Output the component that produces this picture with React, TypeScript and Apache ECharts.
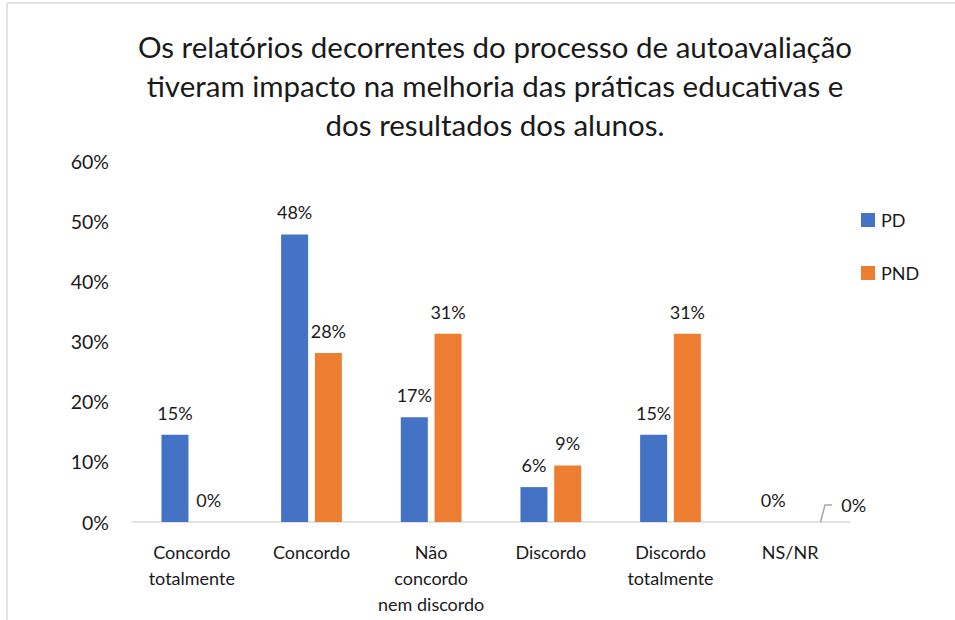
import React, { useEffect, useRef } from "react";
import * as echarts from "echarts";

const titleText =
  "Os relatórios decorrentes do processo de autoavaliação\ntiveram impacto na melhoria das práticas educativas e\ndos resultados dos alunos.";
const categories = [
  "Concordo\ntotalmente",
  "Concordo",
  "Não\nconcordo\nnem discordo",
  "Discordo",
  "Discordo\ntotalmente",
  "NS/NR",
];
const seriesNames = ["PD", "PND"];
const pdValues = [14.5, 47.8, 17.4, 5.8, 14.5, 0];
const pndValues = [0, 28.1, 31.3, 9.4, 31.3, 0];
const yTicks = [0, 10, 20, 30, 40, 50, 60];

const FONT = "Lato, 'Liberation Sans', sans-serif";
const TXT = "#1a1a1a";

export default function App() {
  const ref = useRef<HTMLDivElement>(null);
  useEffect(() => {
    if (!ref.current) return;
    const chart = echarts.init(ref.current, undefined, { renderer: "svg" });
    const lastIdx = categories.length - 1;
    const labelFmt = (p: any) => Math.round(p.value) + "%";
    const pndFmt = (p: any) => (p.dataIndex === lastIdx ? "  " : "") + Math.round(p.value) + "%";
    const pndData = pndValues.map((v, i) =>
      i === lastIdx
        ? {
            value: v,
            labelLine: { show: true, length2: 7, lineStyle: { color: "#a6a6a6", width: 1.5 } },
          }
        : { value: v, labelLine: { show: false } }
    );
    chart.setOption({
      animation: false,
      textStyle: { fontFamily: FONT },
      graphic: [
        { type: "line", shape: { x1: 7, y1: 3, x2: 955, y2: 3 }, style: { stroke: "#d9d9d9", lineWidth: 1.5 } },
        { type: "line", shape: { x1: 7, y1: 3, x2: 7, y2: 620 }, style: { stroke: "#d9d9d9", lineWidth: 1.5 } },
      ],
      title: {
        text: titleText,
        left: 490,
        textAlign: "center",
        top: 22,
        textStyle: { fontFamily: FONT, fontSize: 29.5, fontWeight: "normal", color: TXT, lineHeight: 39 },
      },
      legend: {
        orient: "vertical",
        left: 856,
        top: 206,
        itemWidth: 14,
        itemHeight: 14,
        itemGap: 35,
        icon: "rect",
        textStyle: { fontFamily: FONT, fontSize: 18, color: TXT, padding: [0, 0, 0, 1] },
        data: seriesNames,
      },
      grid: { left: 132, right: 105, top: 161, bottom: 98 },
      xAxis: {
        type: "category",
        data: categories,
        axisLine: { lineStyle: { color: "#d9d9d9", width: 1.5 } },
        axisTick: { show: false },
        axisLabel: { fontFamily: FONT, fontSize: 18, color: TXT, lineHeight: 26, margin: 17, interval: 0 },
      },
      yAxis: {
        type: "value",
        min: yTicks[0],
        max: yTicks[yTicks.length - 1],
        interval: 10,
        splitLine: { show: false },
        axisLine: { show: false },
        axisTick: { show: false },
        axisLabel: { fontFamily: FONT, fontSize: 19.5, color: TXT, margin: 23, formatter: "{value}%" },
      },
      series: [
        {
          name: seriesNames[0],
          type: "bar",
          data: pdValues,
          barWidth: 27,
          barGap: "25%",
          itemStyle: { color: "#4472C4" },
          label: { show: true, position: "top", distance: 13, fontFamily: FONT, fontSize: 18, color: TXT, formatter: labelFmt },
        },
        {
          name: seriesNames[1],
          type: "bar",
          data: pndData,
          barWidth: 27,
          barGap: "25%",
          itemStyle: { color: "#ED7D31" },
          label: { show: true, position: "top", distance: 13, fontFamily: FONT, fontSize: 18, color: TXT, formatter: pndFmt },
          labelLayout: (p: any) => (p.dataIndex === lastIdx ? { dx: 42, dy: 5 } : {}),
        },
      ],
    });
    return () => chart.dispose();
  }, []);
  return (
    <div style={{ position: "absolute", left: 0, top: 0, width: 955, height: 620, background: "#fff" }}>
      <div ref={ref} style={{ width: 955, height: 620 }} />
    </div>
  );
}
